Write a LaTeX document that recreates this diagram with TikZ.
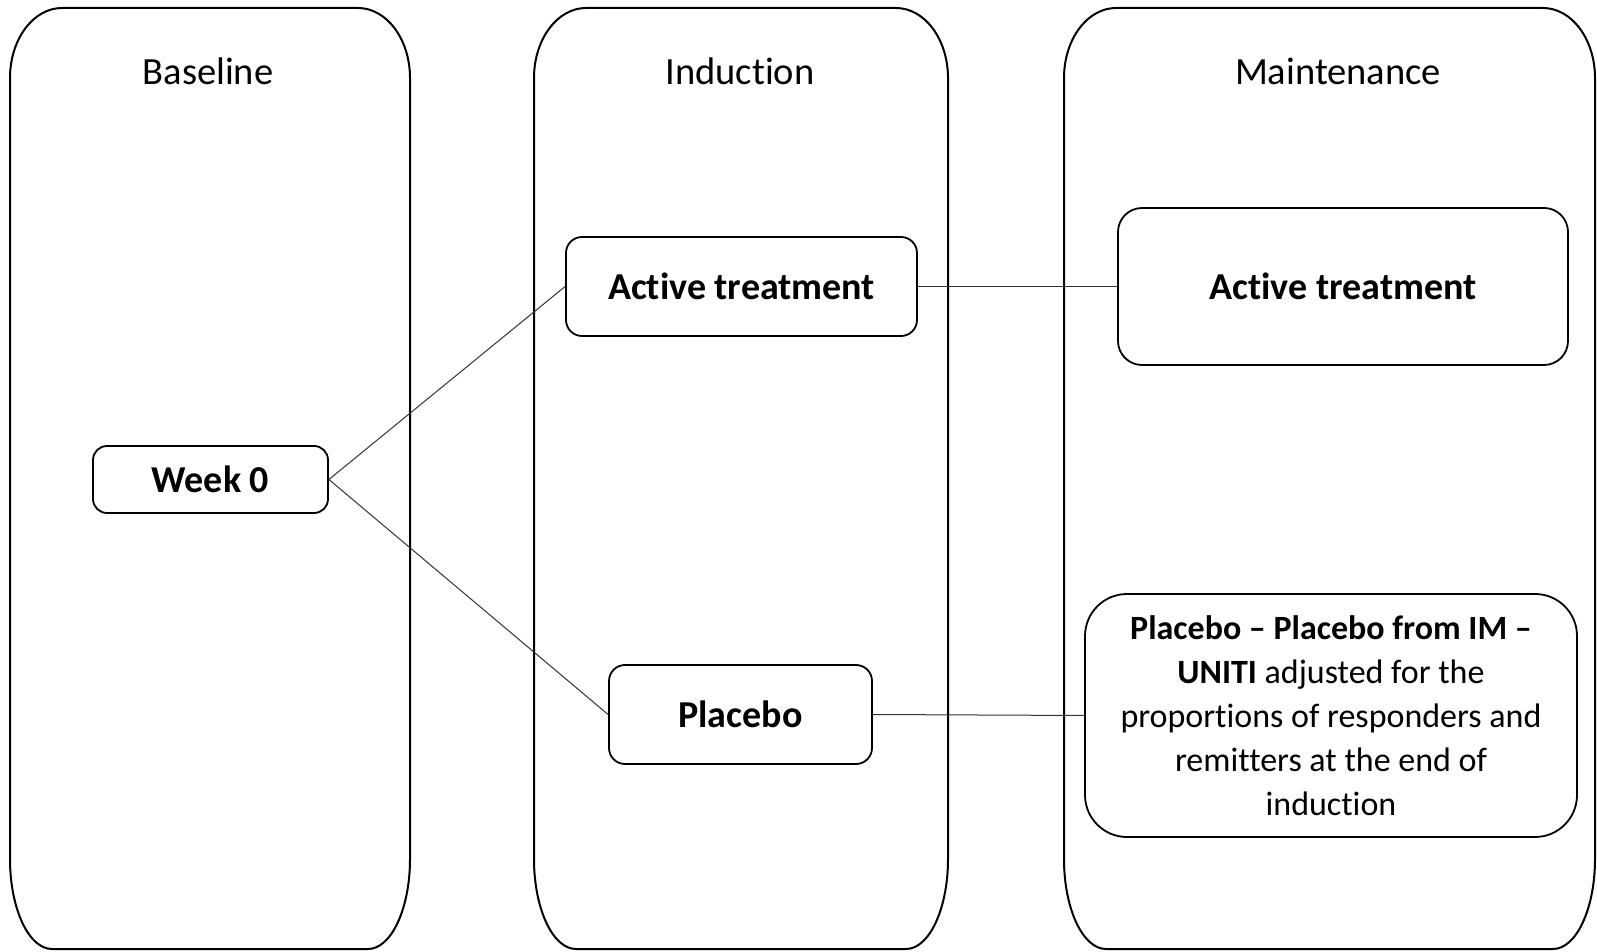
\documentclass[tikz,border=0pt]{standalone}
\usepackage{fontspec}
\setmainfont{Carlito}[Ligatures=NoCommon]
\begin{document}
\begin{tikzpicture}[x=1pt,y=1pt,
  col/.style={draw=black,line width=2pt},
  title/.style={font=\fontsize{38.5}{46}\selectfont},
  box/.style={draw=black,line width=1.8pt,rounded corners=#1,align=center,
    font=\fontsize{38}{46}\selectfont,inner sep=0pt},
  conn/.style={draw=black!80,line width=1pt}]
\useasboundingbox (0,0) rectangle (1597,951);
\fill[white] (0,0) rectangle (1597,951);
% columns
\foreach \xa/\xb in {10/410, 534/948, 1064/1595}{
  \draw[col] (\xa,873) -- (\xa,92)
    arc[start angle=180,end angle=270,x radius=42,y radius=90]
    -- (\xb-42,2)
    arc[start angle=270,end angle=360,x radius=42,y radius=90]
    -- (\xb,873)
    arc[start angle=0,end angle=90,x radius=52,y radius=70]
    -- (\xa+52,943)
    arc[start angle=90,end angle=180,x radius=52,y radius=70] -- cycle;
}
\node[title] (tbase) at (208,880) {Baseline};
\node[title] (tind) at (740,880) {Induction};
\node[title] (tmaint) at (1338,880) {Maintenance};
% boxes
\node[box=14pt,minimum width=235pt,minimum height=67pt] (week) at (210.5,471.5) {\textbf{Week 0}};
\node[box=16pt,minimum width=351pt,minimum height=99pt] (actind) at (741.5,664.5) {\textbf{Active treatment}};
\node[box=16pt,minimum width=263pt,minimum height=99pt] (plaind) at (740.5,236.5) {\textbf{Placebo}};
\node[box=24pt,minimum width=450pt,minimum height=157pt] (actmaint) at (1343,664.5) {\textbf{Active treatment}};
\node[box=42pt,minimum width=492pt,minimum height=243pt,font=\fontsize{34}{44}\selectfont] (plamaint) at (1331,235.5)
  {\textbf{Placebo -- Placebo from IM --}\\ \textbf{UNITI} adjusted for the\\ proportions of responders and\\ remitters at the end of\\ induction};
% connectors
\draw[conn] (week.east) -- (actind.west);
\draw[conn] (week.east) -- (plaind.west);
\draw[conn] (actind.east) -- (actmaint.west);
\draw[conn] (plaind.east) -- (plamaint.west);
\end{tikzpicture}
\end{document}
